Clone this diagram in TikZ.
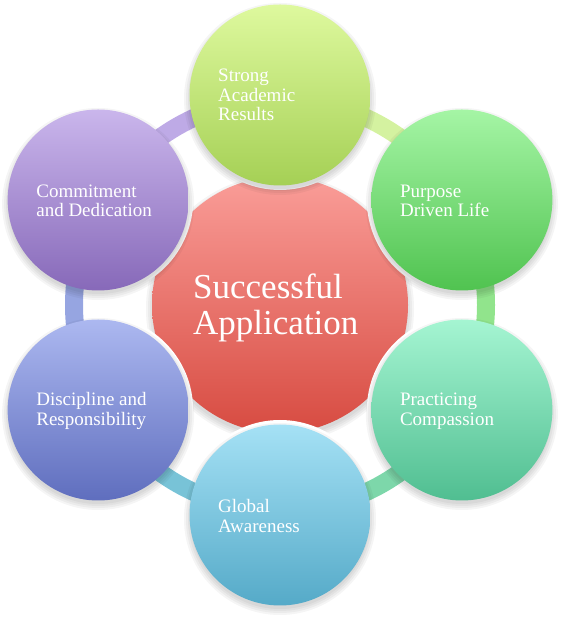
\documentclass[tikz,border=0pt]{standalone}
\usepackage{fontspec}
\setmainfont{Liberation Serif}
\usetikzlibrary{calc}
\definecolor{tA}{RGB}{222,249,158}\definecolor{mA}{RGB}{205,238,135}\definecolor{bA}{RGB}{165,208,85}\definecolor{rA}{RGB}{212,242,160}
\definecolor{tB}{RGB}{165,245,165}\definecolor{mB}{RGB}{140,232,140}\definecolor{bB}{RGB}{80,195,80}\definecolor{rB}{RGB}{145,228,140}
\definecolor{tC}{RGB}{165,245,210}\definecolor{mC}{RGB}{140,230,190}\definecolor{bC}{RGB}{80,190,145}\definecolor{rC}{RGB}{125,215,170}
\definecolor{tD}{RGB}{165,225,245}\definecolor{mD}{RGB}{145,212,232}\definecolor{bD}{RGB}{85,170,200}\definecolor{rD}{RGB}{120,195,215}
\definecolor{tE}{RGB}{172,184,240}\definecolor{mE}{RGB}{150,165,228}\definecolor{bE}{RGB}{95,110,190}\definecolor{rE}{RGB}{150,165,225}
\definecolor{tF}{RGB}{202,182,236}\definecolor{mF}{RGB}{180,160,222}\definecolor{bF}{RGB}{135,105,185}\definecolor{rF}{RGB}{190,170,230}
\definecolor{tG}{RGB}{250,157,152}\definecolor{mG}{RGB}{240,130,120}\definecolor{bG}{RGB}{215,75,65}
\newcommand\softshadow[2]{\foreach \d in {6,4,2,0} \fill[black,opacity=0.04] ([yshift=-4pt]#1) circle[radius=#2+\d];}
\begin{document}
\begin{tikzpicture}[x=1pt,y=1pt,
  outer/.style={circle,minimum size=181pt,inner sep=0pt,shading=axis},
  lbl/.style={anchor=west,align=left,inner sep=0pt,text=white,font=\fontsize{19}{19.5}\selectfont},
  band/.style={line width=18pt}]
\useasboundingbox (0,0) rectangle (560,617);
\coordinate (C) at (280,312);
\coordinate (pA) at ($(C)+(90:210)$);
\coordinate (pB) at ($(C)+(30:210)$);
\coordinate (pC) at ($(C)+(-30:210)$);
\coordinate (pD) at ($(C)+(-90:210)$);
\coordinate (pE) at ($(C)+(-150:210)$);
\coordinate (pF) at ($(C)+(150:210)$);
% centre
\softshadow{C}{128}
\node[circle,minimum size=256pt,inner sep=0pt,shading=axis,top color=tG,middle color=mG,bottom color=bG] (ctr) at (C) {};
\node[anchor=west,align=left,inner sep=0pt,text=white,font=\fontsize{35}{36}\selectfont] (ctrt) at (193,309) {Successful\\Application};
% white halos cutting the centre circle
\foreach \p in {pA,pB,pC,pD,pE,pF} \fill[white] (\p) circle[radius=95];
% ring band
\draw[band,rA] (C) ++(90:206) arc[start angle=90,end angle=30,radius=206];
\draw[band,rB] (C) ++(30:206) arc[start angle=30,end angle=-30,radius=206];
\draw[band,rC] (C) ++(-30:206) arc[start angle=-30,end angle=-90,radius=206];
\draw[band,rD] (C) ++(-90:206) arc[start angle=-90,end angle=-150,radius=206];
\draw[band,rE] (C) ++(-150:206) arc[start angle=-150,end angle=-210,radius=206];
\draw[band,rF] (C) ++(150:206) arc[start angle=150,end angle=90,radius=206];
% outer circles
\softshadow{pA}{90}
\node[outer,top color=tA,middle color=mA,bottom color=bA] (A) at (pA) {};
\softshadow{pB}{90}
\node[outer,top color=tB,middle color=mB,bottom color=bB] (B) at (pB) {};
\softshadow{pC}{90}
\node[outer,top color=tC,middle color=mC,bottom color=bC] (Cc) at (pC) {};
\softshadow{pD}{90}
\node[outer,top color=tD,middle color=mD,bottom color=bD] (D) at (pD) {};
\softshadow{pE}{90}
\node[outer,top color=tE,middle color=mE,bottom color=bE] (E) at (pE) {};
\softshadow{pF}{90}
\node[outer,top color=tF,middle color=mF,bottom color=bF] (F) at (pF) {};
% labels
\node[lbl] (At) at ([xshift=-62pt,yshift=0pt]A.center) {Strong\\Academic\\Results};
\node[lbl] (Bt) at ([xshift=-62pt,yshift=-1pt]B.center) {Purpose\\Driven Life};
\node[lbl] (Ct) at ([xshift=-62pt,yshift=-1pt]Cc.center) {Practicing\\Compassion};
\node[lbl] (Dt) at ([xshift=-62pt,yshift=-1pt]D.center) {Global\\Awareness};
\node[lbl] (Et) at ([xshift=-62pt,yshift=-1pt]E.center) {Discipline and\\Responsibility};
\node[lbl] (Ft) at ([xshift=-62pt,yshift=-1pt]F.center) {Commitment\\and Dedication};
\end{tikzpicture}
\end{document}
